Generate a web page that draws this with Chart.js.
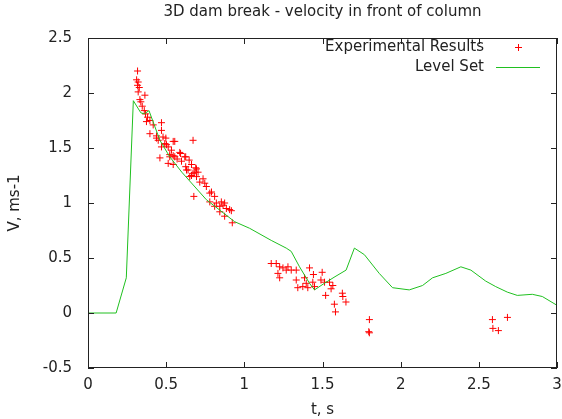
<!DOCTYPE html>
<html>
<head>
<meta charset="utf-8">
<script src="https://cdn.jsdelivr.net/npm/chart.js@4/dist/chart.umd.min.js"></script>
<style>
  html, body { margin: 0; padding: 0; background: #fff; }
  #wrap { width: 562px; height: 419px; position: relative; }
</style>
</head>
<body>
<div id="wrap"><canvas id="c" width="562" height="419"></canvas></div>
<script>
// experimental points (t in s, V in m/s)
const expT = [
  0.317, 0.311, 0.321, 0.317, 0.328, 0.321, 0.364, 0.332, 0.338, 0.347,
  0.360, 0.368, 0.381, 0.396, 0.374, 0.470, 0.417, 0.470, 0.396, 0.438,
  0.480, 0.438, 0.498, 0.449, 0.555, 0.672, 0.545, 0.491, 0.502, 0.470,
  0.513, 0.534, 0.587, 0.592, 0.523, 0.545, 0.523, 0.555, 0.619, 0.625,
  0.460, 0.570, 0.598, 0.647, 0.513, 0.545, 0.662, 0.625, 0.689, 0.694,
  0.630, 0.640, 0.672, 0.704, 0.683, 0.662, 0.651, 0.694, 0.736, 0.715,
  0.747, 0.757, 0.790, 0.779, 0.677, 0.810, 0.779, 0.821, 0.853, 0.874,
  0.843, 0.864, 0.885, 0.906, 0.810, 0.843, 0.874, 0.923, 0.917,
  1.172, 1.204, 1.226, 1.247, 1.279, 1.300, 1.332, 1.215, 1.226, 1.268,
  1.417, 1.498, 1.442, 1.332, 1.385, 1.396, 1.438, 1.490, 1.513, 1.545,
  1.566, 1.342, 1.374, 1.406, 1.449, 1.555, 1.520, 1.627, 1.630, 1.650,
  1.576, 1.583, 1.800, 1.796, 1.800, 2.587, 2.683, 2.590, 2.625
];
const expV = [
  2.20, 2.12, 2.10, 2.07, 2.05, 2.01, 1.98, 1.94, 1.92, 1.88,
  1.84, 1.81, 1.78, 1.75, 1.74, 1.73, 1.71, 1.66, 1.63, 1.61,
  1.60, 1.59, 1.59, 1.57, 1.56, 1.57, 1.56, 1.54, 1.53, 1.51,
  1.51, 1.48, 1.46, 1.45, 1.44, 1.43, 1.42, 1.42, 1.42, 1.42,
  1.41, 1.40, 1.38, 1.39, 1.36, 1.35, 1.35, 1.33, 1.32, 1.31,
  1.30, 1.30, 1.27, 1.28, 1.28, 1.25, 1.24, 1.24, 1.22, 1.19,
  1.18, 1.15, 1.10, 1.09, 1.06, 1.06, 1.01, 1.00, 1.01, 1.00,
  0.97, 0.98, 0.95, 0.94, 0.97, 0.92, 0.88, 0.82, 0.93,
  0.45, 0.45, 0.42, 0.41, 0.42, 0.39, 0.39, 0.36, 0.32, 0.39,
  0.41, 0.37, 0.35, 0.30, 0.32, 0.27, 0.28, 0.30, 0.28, 0.28,
  0.25, 0.23, 0.24, 0.23, 0.24, 0.22, 0.16, 0.18, 0.15, 0.10,
  0.08, 0.01, -0.06, -0.17, -0.18, -0.06, -0.04, -0.14, -0.16
];

// level set simulation curve
const lsT = [0, 0.18, 0.245, 0.29, 0.338, 0.36, 0.39, 0.46, 0.523, 0.60,
  0.757, 0.938, 1.034, 1.172, 1.268, 1.30, 1.353, 1.417, 1.449, 1.512,
  1.58, 1.651, 1.704, 1.768, 1.863, 1.948, 2.055, 2.14, 2.204, 2.289,
  2.385, 2.449, 2.544, 2.608, 2.682, 2.746, 2.842, 2.906, 3.0];
const lsV = [0, 0, 0.32, 1.93, 1.82, 1.81, 1.84, 1.57, 1.42, 1.28,
  1.03, 0.83, 0.77, 0.66, 0.59, 0.56, 0.42, 0.27, 0.21, 0.27,
  0.33, 0.39, 0.59, 0.53, 0.36, 0.23, 0.21, 0.25, 0.32, 0.36,
  0.42, 0.39, 0.29, 0.24, 0.19, 0.16, 0.17, 0.15, 0.07];

const xTicks = [0, 0.5, 1, 1.5, 2, 2.5, 3];
const yTicks = [-0.5, 0, 0.5, 1, 1.5, 2, 2.5];

const titleText = '3D dam break - velocity in front of column';
const FONT = '"DejaVu Sans", sans-serif';
const FS = 15;
const RED = '#ff0000';
const GREEN = '#20c020';

// gnuplot style: full border, inward ticks on all sides, key in top right, title over plot
const gnuFrame = {
  id: 'gnuFrame',
  afterDraw(chart) {
    const { ctx, chartArea: a, scales } = chart;
    ctx.save();
    ctx.strokeStyle = '#222';
    ctx.lineWidth = 1;
    ctx.strokeRect(Math.round(a.left) + 0.5, Math.round(a.top) + 0.5,
      Math.round(a.right - a.left) - 1, Math.round(a.bottom - a.top) - 1);
    const tl = 6;
    ctx.beginPath();
    xTicks.forEach(v => {
      const px = Math.round(scales.x.getPixelForValue(v)) + 0.5;
      ctx.moveTo(px, a.bottom); ctx.lineTo(px, a.bottom - tl);
      ctx.moveTo(px, a.top); ctx.lineTo(px, a.top + tl);
    });
    yTicks.forEach(v => {
      const py = Math.round(scales.y.getPixelForValue(v)) + 0.5;
      ctx.moveTo(a.left, py); ctx.lineTo(a.left + tl, py);
      ctx.moveTo(a.right, py); ctx.lineTo(a.right - tl, py);
    });
    ctx.stroke();

    // title
    ctx.fillStyle = '#222';
    ctx.font = FS + 'px ' + FONT;
    ctx.textAlign = 'center';
    ctx.textBaseline = 'middle';
    ctx.fillText(titleText, (a.left + a.right) / 2, 12);

    // key
    ctx.textAlign = 'right';
    ctx.fillText('Experimental Results', 484, 47);
    ctx.fillText('Level Set', 484, 67);
    ctx.strokeStyle = RED;
    ctx.beginPath();
    ctx.moveTo(518.5, 47.5 - 3.5); ctx.lineTo(518.5, 47.5 + 3.5);
    ctx.moveTo(515, 47.5); ctx.lineTo(522, 47.5);
    ctx.stroke();
    ctx.strokeStyle = GREEN;
    ctx.beginPath();
    ctx.moveTo(496, 67.5); ctx.lineTo(540, 67.5);
    ctx.stroke();
    ctx.restore();
  }
};

const expData = expT.map((t, i) => ({ x: t, y: expV[i] }));
const lsData = lsT.map((t, i) => ({ x: t, y: lsV[i] }));

new Chart(document.getElementById('c'), {
  type: 'scatter',
  data: {
    datasets: [
      {
        label: 'Level Set',
        type: 'line',
        data: lsData,
        borderColor: GREEN,
        borderWidth: 1,
        pointRadius: 0,
        tension: 0,
        fill: false,
        order: 0
      },
      {
        label: 'Experimental Results',
        data: expData,
        pointStyle: 'cross',
        pointRadius: 3.5,
        pointBorderWidth: 1,
        borderColor: RED,
        backgroundColor: RED,
        order: 1
      }
    ]
  },
  options: {
    responsive: false,
    animation: false,
    devicePixelRatio: 1,
    layout: { padding: { top: 38, right: 4, left: 0, bottom: 0 } },
    plugins: {
      legend: { display: false },
      tooltip: { enabled: false },
      title: { display: false }
    },
    scales: {
      x: {
        type: 'linear',
        min: 0, max: 3,
        grid: { display: false, drawTicks: false },
        border: { display: false },
        afterBuildTicks: s => { s.ticks = xTicks.map(v => ({ value: v })); },
        afterFit: s => { s.height = 51; s.paddingLeft = 0; s.paddingRight = 0; },
        ticks: { color: '#222', font: { family: FONT, size: FS }, padding: 8, maxRotation: 0, callback: v => String(v) },
        title: { display: true, text: 't, s', color: '#222', font: { family: FONT, size: FS }, padding: { top: 2, bottom: 0 } }
      },
      y: {
        type: 'linear',
        min: -0.5, max: 2.5,
        grid: { display: false, drawTicks: false },
        border: { display: false },
        afterBuildTicks: s => { s.ticks = yTicks.map(v => ({ value: v })); },
        afterFit: s => { s.width = 88; },
        ticks: { color: '#222', font: { family: FONT, size: FS }, padding: 16, callback: v => String(v) },
        title: { display: true, text: 'V, ms-1', color: '#222', font: { family: FONT, size: FS }, padding: { top: 6, bottom: 0 } }
      }
    }
  },
  plugins: [gnuFrame]
});
</script>
</body>
</html>
